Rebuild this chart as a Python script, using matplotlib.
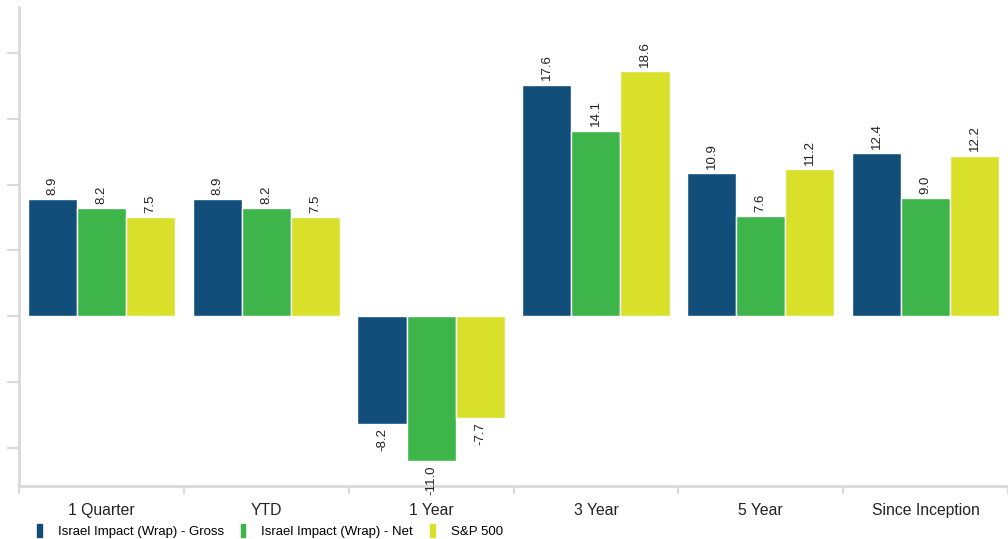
import matplotlib.pyplot as plt
import numpy as np
from matplotlib.patches import Rectangle

plt.rcParams['font.family'] = ['Liberation Sans', 'DejaVu Sans']

categories = ['1 Quarter', 'YTD', '1 Year', '3 Year', '5 Year', 'Since Inception']
gross = [8.9, 8.9, -8.2, 17.6, 10.9, 12.4]
net = [8.2, 8.2, -11.0, 14.1, 7.6, 9.0]
sp500 = [7.5, 7.5, -7.7, 18.6, 11.2, 12.2]
series = ['Israel Impact (Wrap) - Gross', 'Israel Impact (Wrap) - Net', 'S&P 500']
colors = ['#114f7a', '#3db54a', '#d8e02a']

fig = plt.figure(figsize=(10.08, 5.39), dpi=100)
ax = fig.add_axes([0.0189, 0.0983, 0.9811, 0.889])

x = np.arange(len(categories))
w = 0.298
for i, (vals, c, name) in enumerate(zip([gross, net, sp500], colors, series)):
    bars = ax.bar(x + (i - 1) * w, vals, w, color=c, edgecolor='white', linewidth=1, label=name)
    ax.bar_label(bars, labels=['%.1f' % v for v in vals], rotation=90, padding=3,
                 fontsize=9.5, color='#222222')

ax.set_xlim(-0.5, len(categories) - 0.5)
ax.set_ylim(-12.9, 23.5)
ax.set_yticks([-10, -5, 0, 5, 10, 15, 20])
ax.set_yticklabels([])
ax.set_xticks(np.arange(len(categories) + 1) - 0.5)
ax.set_xticklabels([])
ax.set_xticks(x, minor=True)
ax.set_xticklabels(categories, minor=True, fontsize=11.3, color='#222222')
ax.tick_params(axis='x', which='minor', length=0, pad=12)
ax.tick_params(axis='x', which='major', length=6, color='#d9d9d9', width=1.5)
ax.tick_params(axis='y', length=9, color='#d9d9d9', width=1.5)
for s in ['top', 'right']:
    ax.spines[s].set_visible(False)
for s in ['left', 'bottom']:
    ax.spines[s].set_color('#d9d9d9')
    ax.spines[s].set_linewidth(2)

handles = [Rectangle((0, 0), 1, 1, color=c) for c in colors]
fig.legend(handles, series, loc='lower left', bbox_to_anchor=(0.025, -0.02), ncol=3,
           frameon=False, fontsize=9.5, handlelength=0.35, handleheight=1.1,
           handletextpad=1.2, columnspacing=1.3)

fig.savefig('out.png', dpi=100)
